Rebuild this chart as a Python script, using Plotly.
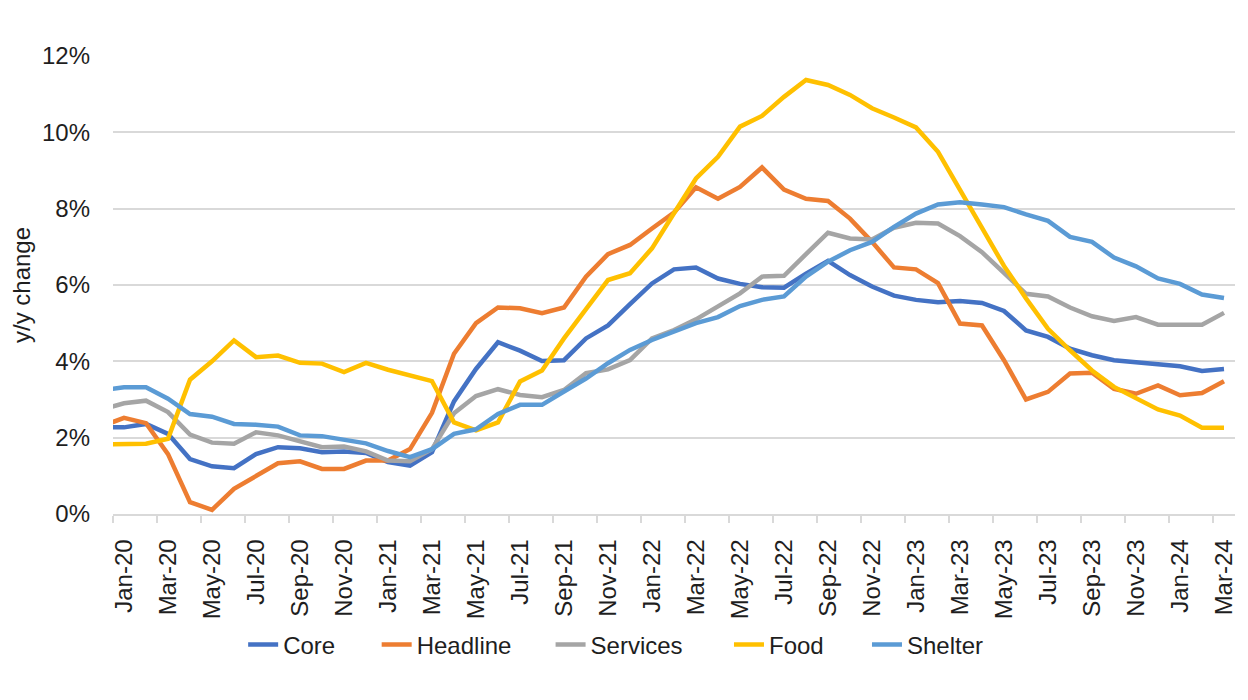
import plotly.graph_objects as go

# months (Dec-19 is only used so the line runs into the left edge, Excel-style)
months = ["Dec-19",
          "Jan-20", "Feb-20", "Mar-20", "Apr-20", "May-20", "Jun-20", "Jul-20", "Aug-20", "Sep-20", "Oct-20", "Nov-20", "Dec-20",
          "Jan-21", "Feb-21", "Mar-21", "Apr-21", "May-21", "Jun-21", "Jul-21", "Aug-21", "Sep-21", "Oct-21", "Nov-21", "Dec-21",
          "Jan-22", "Feb-22", "Mar-22", "Apr-22", "May-22", "Jun-22", "Jul-22", "Aug-22", "Sep-22", "Oct-22", "Nov-22", "Dec-22",
          "Jan-23", "Feb-23", "Mar-23", "Apr-23", "May-23", "Jun-23", "Jul-23", "Aug-23", "Sep-23", "Oct-23", "Nov-23", "Dec-23",
          "Jan-24", "Feb-24", "Mar-24"]

# y/y change, %
core = [2.27,
        2.27, 2.36, 2.10, 1.44, 1.25, 1.20, 1.57, 1.75, 1.72, 1.62, 1.64, 1.60,
        1.36, 1.27, 1.62, 2.95, 3.80, 4.50, 4.28, 4.01, 4.03, 4.60, 4.94, 5.50,
        6.04, 6.41, 6.46, 6.17, 6.03, 5.94, 5.93, 6.30, 6.63, 6.26, 5.96, 5.72,
        5.61, 5.55, 5.58, 5.53, 5.32, 4.81, 4.64, 4.33, 4.16, 4.03, 3.98, 3.94,
        3.87, 3.75, 3.80]
headline = [2.30,
            2.52, 2.38, 1.57, 0.31, 0.11, 0.66, 1.00, 1.33, 1.38, 1.18, 1.18, 1.40,
            1.40, 1.70, 2.65, 4.20, 5.00, 5.41, 5.39, 5.26, 5.41, 6.22, 6.81, 7.05,
            7.48, 7.90, 8.56, 8.26, 8.57, 9.08, 8.50, 8.26, 8.20, 7.74, 7.13, 6.46,
            6.41, 6.05, 4.99, 4.94, 4.03, 3.00, 3.20, 3.68, 3.70, 3.28, 3.15, 3.37,
            3.11, 3.17, 3.48]
services = [2.74,
            2.90, 2.97, 2.67, 2.08, 1.87, 1.84, 2.14, 2.06, 1.91, 1.75, 1.77, 1.64,
            1.40, 1.38, 1.70, 2.64, 3.09, 3.27, 3.12, 3.06, 3.25, 3.69, 3.79, 4.03,
            4.60, 4.82, 5.10, 5.43, 5.78, 6.22, 6.24, 6.81, 7.37, 7.22, 7.19, 7.50,
            7.63, 7.61, 7.28, 6.86, 6.32, 5.77, 5.70, 5.41, 5.18, 5.06, 5.16, 4.96,
            4.96, 4.96, 5.27]
food = [1.82,
        1.82, 1.84, 1.97, 3.52, 4.00, 4.55, 4.11, 4.15, 3.96, 3.94, 3.72, 3.96,
        3.78, 3.63, 3.48, 2.40, 2.19, 2.40, 3.47, 3.76, 4.60, 5.37, 6.13, 6.31,
        6.96, 7.88, 8.79, 9.36, 10.15, 10.43, 10.93, 11.37, 11.24, 10.98, 10.63, 10.39,
        10.13, 9.49, 8.50, 7.49, 6.50, 5.65, 4.85, 4.29, 3.76, 3.33, 3.02, 2.74,
        2.58, 2.26, 2.26]
shelter = [3.24,
           3.32, 3.32, 3.02, 2.62, 2.55, 2.36, 2.34, 2.29, 2.06, 2.04, 1.94, 1.85,
           1.65, 1.49, 1.70, 2.10, 2.22, 2.62, 2.86, 2.86, 3.21, 3.55, 3.95, 4.30,
           4.56, 4.78, 5.00, 5.16, 5.45, 5.61, 5.70, 6.22, 6.61, 6.91, 7.13, 7.52,
           7.87, 8.11, 8.17, 8.11, 8.04, 7.85, 7.68, 7.26, 7.13, 6.72, 6.49, 6.17,
           6.03, 5.75, 5.66]

y_ticks = [0, 2, 4, 6, 8, 10, 12]
y_labels = ["0%", "2%", "4%", "6%", "8%", "10%", "12%"]

series = [("Core", core, "#4472C4"),
          ("Headline", headline, "#ED7D31"),
          ("Services", services, "#A5A5A5"),
          ("Food", food, "#FFC000"),
          ("Shelter", shelter, "#5B9BD5")]

# where each legend entry starts (paper x), to get Excel's wider spacing
legend_x = [0.116, 0.235, 0.390, 0.549, 0.672]

FONT = "Arial, Liberation Sans, sans-serif"
TXT = "#1E1E1E"
GRID = "#D9D9D9"

# month index, Jan-20 = 0
xs = list(range(-1, len(months) - 1))

fig = go.Figure()
layout_legends = {}
for k, (name, vals, color) in enumerate(series):
    lg = "legend" if k == 0 else f"legend{k + 1}"
    fig.add_trace(go.Scatter(x=xs, y=vals, name=name, mode="lines",
                             line=dict(color=color, width=4.5), legend=lg))
    layout_legends[lg] = dict(orientation="h", x=legend_x[k], xanchor="left",
                              y=-0.286, yanchor="middle", bgcolor="rgba(0,0,0,0)",
                              font=dict(size=24, color=TXT))

fig.update_layout(
    width=1232, height=684,
    margin=dict(l=105, r=3, t=48, b=178),
    paper_bgcolor="white", plot_bgcolor="white",
    font=dict(family=FONT, size=24, color=TXT),
    showlegend=True,
    **layout_legends,
)

fig.update_xaxes(
    range=[-0.5, 50.5],
    tickmode="array", tickvals=xs[1::2], ticktext=months[1::2],
    tickangle=-90, ticks="", ticklabelstandoff=14,
    tickfont=dict(size=24, color=TXT),
    showgrid=False, zeroline=False,
    showline=True, linecolor=GRID, linewidth=1.5,
    minor=dict(tickmode="linear", tick0=-0.5, dtick=2, ticks="outside",
               ticklen=7, tickcolor=GRID, tickwidth=1.5, showgrid=False),
)

fig.update_yaxes(
    range=[0, 12], tickmode="array", tickvals=y_ticks, ticktext=y_labels,
    ticks="", ticklabelstandoff=22,
    tickfont=dict(size=24, color=TXT),
    showgrid=True, gridcolor=GRID, gridwidth=1.5, zeroline=False,
    title=dict(text="y/y change", font=dict(size=24, color=TXT), standoff=6),
)

fig.write_html("out.html")
